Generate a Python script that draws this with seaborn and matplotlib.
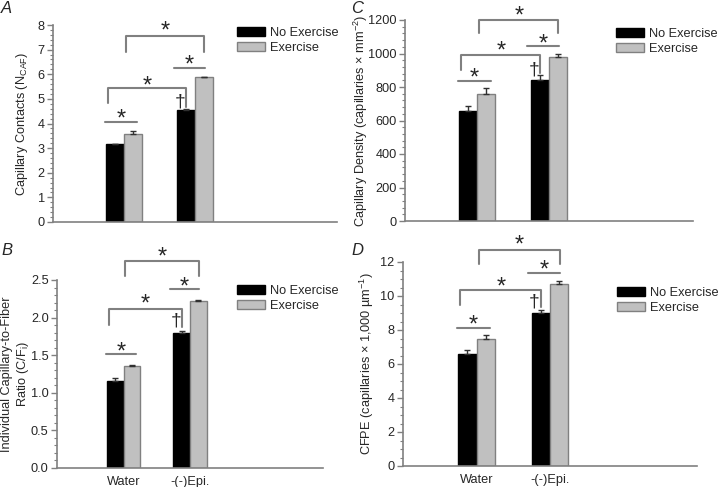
import seaborn as sns
import matplotlib.pyplot as plt
import pandas as pd
from matplotlib.ticker import MultipleLocator
from matplotlib.transforms import offset_copy

# Groups and conditions
groups = ['Water', '-(-)Epi.']
conditions = ['No Exercise', 'Exercise']

# Panel A: capillary contacts
caf_no_ex = [3.16, 4.54]
caf_ex = [3.58, 5.87]
caf_no_ex_err = [0.02, 0.05]
caf_ex_err = [0.12, 0.03]

# Panel B: individual capillary-to-fiber ratio
cf_no_ex = [1.16, 1.80]
cf_ex = [1.35, 2.22]
cf_no_ex_err = [0.035, 0.02]
cf_ex_err = [0.02, 0.014]

# Panel C: capillary density
cd_no_ex = [655, 844]
cd_ex = [756, 977]
cd_no_ex_err = [32, 30]
cd_ex_err = [38, 18]

# Panel D: CFPE
cfpe_no_ex = [6.60, 9.00]
cfpe_ex = [7.49, 10.73]
cfpe_no_ex_err = [0.23, 0.20]
cfpe_ex_err = [0.23, 0.17]

# Significance annotation heights (data units) per panel
# water line, water star, mid bracket top, mid left leg, mid right leg, mid star,
# epi line, epi star, top bracket, top legs, top star, dagger
ann_a = [4.07, 4.40, 5.46, 4.82, 4.69, 5.75, 6.27, 6.60, 7.56, 6.92, 7.98, 4.89]
ann_b = [1.52, 1.62, 2.116, 1.90, 1.87, 2.25, 2.38, 2.48, 2.75, 2.55, 2.88, 1.95]
ann_c = [838, 885, 993, 902, 882, 1045, 1047, 1090, 1200, 1120, 1255, 901]
ann_d = [8.11, 8.62, 10.33, 9.45, 9.35, 10.88, 11.36, 11.85, 12.73, 11.90, 13.30, 9.63]

GREY = '#c0c0c0'
LINE = '#808080'
FS = 9.2

sns.set_style('ticks')
plt.rcParams['font.family'] = ['Liberation Sans', 'DejaVu Sans']
plt.rcParams['mathtext.fontset'] = 'custom'
plt.rcParams['mathtext.rm'] = 'Liberation Sans'
plt.rcParams['mathtext.default'] = 'rm'

fig = plt.figure(figsize=(7.2, 4.87), dpi=100)


def px_rect(left, right, top, bottom):
    return [left / 720, 1 - bottom / 487, (right - left) / 720, (bottom - top) / 487]


def draw_panel(ax, no_ex, ex, no_err, ex_err, ymax, ystep, minor, ylabel, ann,
               show_x, leg_xy, label_x):
    df = pd.DataFrame({
        'group': groups * 2,
        'condition': [conditions[0]] * 2 + [conditions[1]] * 2,
        'value': no_ex + ex,
    })
    sns.barplot(data=df, x='group', y='value', hue='condition', order=groups,
                hue_order=conditions, palette=['black', GREY], width=0.5,
                saturation=1, errorbar=None, legend=False, ax=ax)
    for cont, ec in zip(ax.containers, ['black', LINE]):
        for bar in cont:
            bar.set_edgecolor(ec)
            bar.set_linewidth(1)
    for cont, errs in zip(ax.containers, [no_err, ex_err]):
        xs = [b.get_x() + b.get_width() / 2 for b in cont]
        ys = [b.get_height() for b in cont]
        ax.errorbar(xs, ys, yerr=[[0] * len(errs), errs], fmt='none',
                    ecolor='#303030', elinewidth=1, capsize=2.5, capthick=1,
                    zorder=1)

    ax.set_xlim(-1, 3)
    ax.set_ylim(0, ymax)
    ax.yaxis.set_major_locator(MultipleLocator(ystep))
    ax.yaxis.set_minor_locator(MultipleLocator(minor))
    ax.set_xticks([0, 1])
    if show_x:
        ax.set_xticklabels(groups, fontsize=FS)
    else:
        ax.set_xticklabels([])
    ax.tick_params(axis='x', length=0, pad=6)
    ax.tick_params(axis='y', which='major', length=4, width=1, color=LINE,
                   labelsize=FS, pad=2)
    ax.tick_params(axis='y', which='minor', length=2, width=0.8, color=LINE)
    ax.set_xlabel('')
    ax.set_ylabel(ylabel, fontsize=FS)
    ax.yaxis.set_label_coords(label_x, 0.5)
    sns.despine(ax=ax)
    for side in ['left', 'bottom']:
        ax.spines[side].set_color(LINE)
        ax.spines[side].set_linewidth(1.2)

    kw = dict(color=LINE, lw=1.5, clip_on=False)
    # the asterisk glyph sits high in its box: shift it down a few pixels
    star_tr = offset_copy(ax.transData, fig=fig, y=-6, units='dots')
    skw = dict(ha='center', va='center', fontsize=17, transform=star_tr)
    # water pair
    ax.plot([-0.27, 0.19], [ann[0]] * 2, **kw)
    ax.text(-0.04, ann[1], '*', **skw)
    # water no-ex vs epi no-ex
    ax.plot([-0.22, -0.22, 0.875, 0.875], [ann[3], ann[2], ann[2], ann[4]], **kw)
    ax.text(0.33, ann[5], '*', **skw)
    # epi pair
    ax.plot([0.70, 1.14], [ann[6]] * 2, **kw)
    ax.text(0.92, ann[7], '*', **skw)
    # water ex vs epi ex
    ax.plot([0.03, 0.03, 1.13, 1.13], [ann[9], ann[8], ann[8], ann[9]], **kw)
    ax.text(0.58, ann[10], '*', **skw)
    # dagger
    ax.text(0.79, ann[11], '\u2020', ha='center', va='center', fontsize=14)

    ax.legend(ax.containers, conditions, loc='upper left',
              bbox_to_anchor=leg_xy, bbox_transform=fig.transFigure,
              frameon=False, borderpad=0, borderaxespad=0, handlelength=2.2,
              handleheight=0.7, handletextpad=0.4, labelspacing=0.22,
              fontsize=FS)


ax_a = fig.add_axes(px_rect(53, 337, 25, 222))
ax_b = fig.add_axes(px_rect(57, 323, 280, 467.7))
ax_c = fig.add_axes(px_rect(405, 693, 20, 221))
ax_d = fig.add_axes(px_rect(403, 697, 262, 466))

draw_panel(ax_a, caf_no_ex, caf_ex, caf_no_ex_err, caf_ex_err, 8, 1, 0.2,
           'Capillary Contacts (N$_{\\mathrm{CAF}}$)', ann_a, False,
           (237 / 720, 1 - 27 / 487), -0.08)
draw_panel(ax_b, cf_no_ex, cf_ex, cf_no_ex_err, cf_ex_err, 2.5, 0.5, 0.1,
           'Individual Capillary-to-Fiber\nRatio (C/F$_{\\mathrm{i}}$)', ann_b,
           True, (237 / 720, 1 - 285 / 487), -0.098)
ax_b.yaxis.set_major_formatter(plt.FormatStrFormatter('%.1f'))
draw_panel(ax_c, cd_no_ex, cd_ex, cd_no_ex_err, cd_ex_err, 1200, 200, 40,
           'Capillary Density (capillaries \u00d7 mm$^{-2}$)', ann_c, False,
           (616 / 720, 1 - 28 / 487), -0.12)
draw_panel(ax_d, cfpe_no_ex, cfpe_ex, cfpe_no_ex_err, cfpe_ex_err, 12, 2, 0.5,
           'CFPE (capillaries \u00d7 1,000 \u00b5m$^{-1}$)', ann_d, True,
           (617 / 720, 1 - 287 / 487), -0.093)

# Panel letters
for letter, x, y in [('A', 1, 1), ('B', 1, 243), ('C', 351, 1), ('D', 351, 243)]:
    fig.text(x / 720, 1 - y / 487, letter, ha='left', va='top',
             style='italic', fontsize=12)

fig.savefig('out.png', dpi=100)
